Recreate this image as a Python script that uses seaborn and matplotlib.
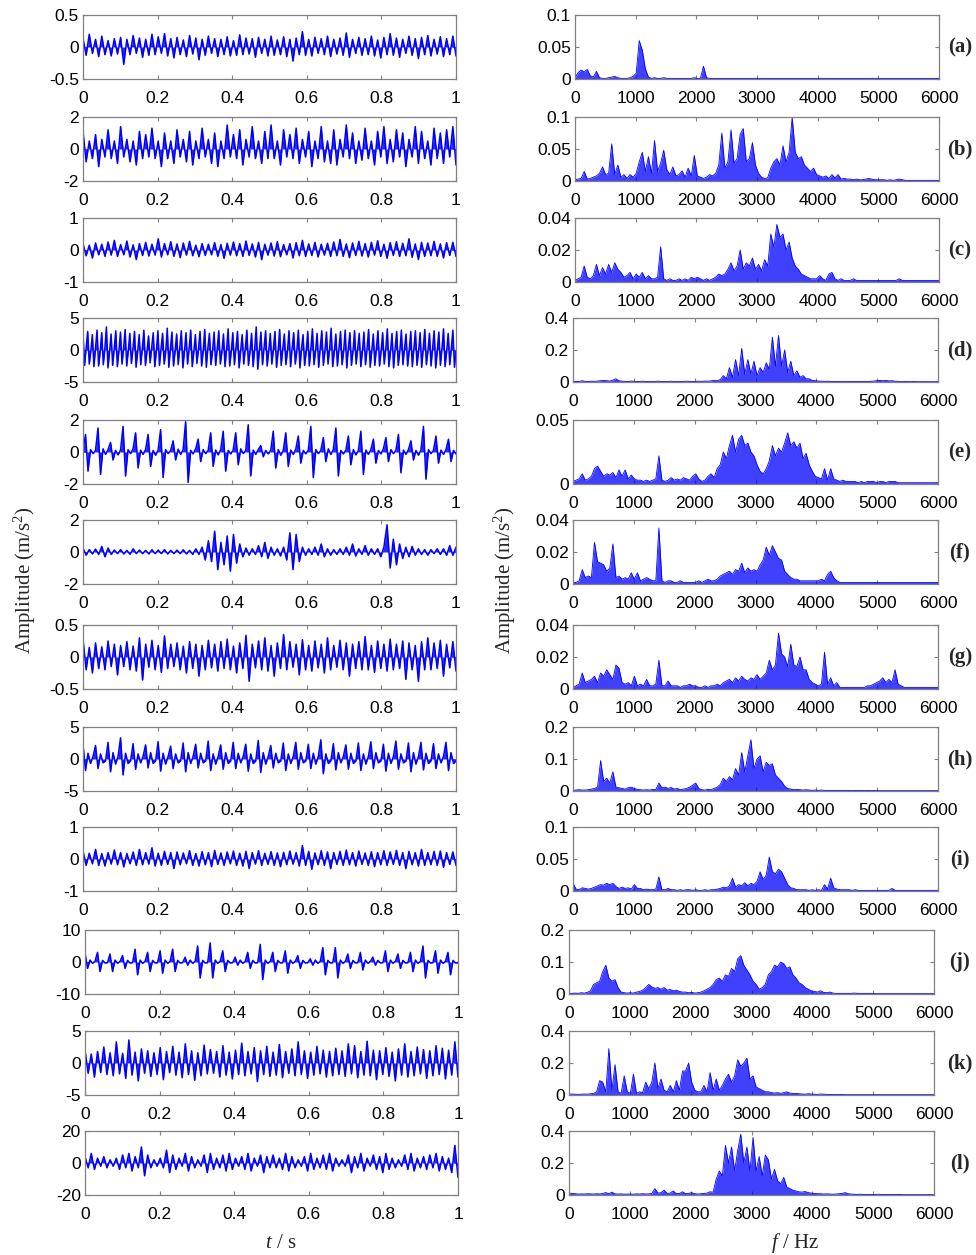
import numpy as np
import matplotlib
matplotlib.use("Agg")
import matplotlib.pyplot as plt
import seaborn as sns
from matplotlib.ticker import FuncFormatter

# ---------------- time-domain signals (m/s^2), sampled uniformly over 0..1 s ----------------
ta = [.14,-.13,.2,-.1,.12,-.15,.17,-.12,.1,-.14,
      .13,-.11,.15,-.27,.12,-.12,.18,-.1,.14,-.16,
      .12,-.13,.2,-.12,.16,-.1,.21,-.14,.13,-.17,
      .15,-.12,.11,-.15,.18,-.11,.14,-.2,.12,-.13,
      .17,-.1,.13,-.15,.12,-.12,.16,-.14,.1,-.13,
      .19,-.12,.14,-.11,.13,-.16,.15,-.1,.12,-.14,
      .17,-.13,.11,-.12,.16,-.15,.12,-.22,.14,-.12,
      .24,-.13,.12,-.14,.15,-.1,.13,-.12,.17,-.15,
      .12,-.11,.14,-.13,.22,-.16,.12,-.1,.15,-.13,
      .13,-.12,.17,-.14,.11,-.17,.15,-.12,.21,-.13,
      .14,-.16,.12,-.1,.17,-.13,.13,-.18,.15,-.12,
      .18,-.14,.12,-.11,.16,-.15,.13,-.12,.17,-.14]
tb = [1.1,-.8,.5,-.6,.9,-1.1,.6,-.5,1.2,-.6,
      .5,-.9,1.4,-.5,.6,-.8,.5,-1.0,1.1,-.6,
      .9,-.5,1.3,-.6,.5,-1.1,1.0,-.6,.5,-.9,
      1.2,-.5,.6,-.8,1.1,-1.0,.5,-.6,1.3,-.5,
      .6,-.9,1.0,-1.1,.5,-.6,1.5,-.5,.9,-.6,
      1.2,-1.0,.6,-.5,1.4,-.6,.5,-.9,1.1,-.6,
      1.5,-.6,.5,-1.0,1.2,-.5,.9,-.6,1.3,-.9,
      .6,-.5,1.1,-1.1,.5,-.6,1.4,-.8,.5,-.9,
      1.2,-1.0,.6,-.5,1.5,-.6,1.0,-.9,.5,-.7,
      1.3,-.6,.5,-1.0,1.1,-.5,1.4,-.9,.6,-.8,
      1.2,-.5,1.0,-1.1,.6,-.5,1.4,-.9,1.1,-.6,
      .5,-1.0,1.3,-.6,1.0,-.9,1.2,-.5,1.4,-1.0]
tc = [.2,-.18,.15,-.25,.22,-.15,.18,-.2,.25,-.16,
      .3,-.2,.17,-.15,.28,-.22,.16,-.3,.2,-.17,
      .24,-.19,.18,-.16,.35,-.22,.2,-.15,.26,-.2,
      .19,-.24,.22,-.16,.27,-.18,.15,-.21,.2,-.17,
      .18,-.15,.23,-.2,.17,-.26,.21,-.16,.25,-.18,
      .2,-.2,.28,-.17,.19,-.22,.24,-.3,.18,-.16,
      .22,-.19,.26,-.21,.17,-.15,.2,-.25,.23,-.18,
      .3,-.2,.19,-.17,.24,-.22,.18,-.16,.21,-.2,
      .25,-.18,.33,-.2,.19,-.24,.22,-.17,.27,-.19,
      .2,-.22,.24,-.16,.29,-.2,.18,-.26,.23,-.17,
      .26,-.2,.21,-.18,.35,-.23,.19,-.3,.24,-.2,
      .22,-.18,.27,-.2,.19,-.25,.23,-.17,.24,-.2]
td = [2.6,-2.4,.3,2.9,-2.2,-.2,2.4,-2.6,.3,3.1,-2.5,-.3,2.7,-2.3,.2,3.6,-2.8,-.3,2.5,-2.4,.2,3.0,-2.6,-.2,2.8,-2.2,.3,3.2,-2.5,-.2,
      2.6,-2.1,.2,2.9,-2.7,-.3,2.4,-2.3,.2,3.1,-2.4,-.2,2.2,-2.0,.3,2.7,-2.6,-.2,3.0,-2.4,.2,2.6,-2.2,-.3,3.4,-2.7,.2,2.8,-2.5,-.2,
      2.5,-2.3,.3,3.0,-2.8,-.2,2.7,-2.2,.2,3.1,-2.6,-.3,2.4,-2.1,.2,2.9,-2.5,-.2,3.2,-2.7,.3,2.6,-2.3,-.2,2.8,-2.4,.2,3.0,-2.2,-.3,
      2.5,-2.6,.2,3.3,-2.5,-.2,2.7,-2.3,.3,2.9,-2.8,-.2,2.4,-2.2,.2,3.1,-2.4,-.3,2.6,-2.6,.2,3.6,-3.0,-.2,2.8,-2.3,.3,3.0,-2.5,-.2,
      2.6,-2.2,.2,2.9,-2.7,-.3,3.2,-2.4,.2,2.5,-2.3,-.2,3.0,-2.6,.3,2.7,-2.2,-.2,3.1,-2.8,.2,2.4,-2.4,-.3,2.9,-2.5,.2,3.3,-2.3,-.2,
      2.6,-2.7,.3,3.0,-2.4,-.2,2.8,-2.2,.2,3.4,-2.6,-.3,2.5,-2.5,.2,2.9,-2.3,-.2,3.1,-2.8,.3,2.7,-2.4,-.2,3.0,-2.2,.2,2.6,-2.6,-.3,
      2.8,-2.3,.2,3.2,-2.7,-.2,2.5,-2.4,.3,3.0,-2.5,-.2,2.7,-2.2,.2,3.3,-2.6,-.3,2.6,-2.8,.2,2.9,-2.4,-.2,3.1,-2.3,.3,2.5,-2.5,-.2,
      2.9,-2.6,.2,3.0,-2.4,-.3,2.7,-2.7,.2,3.2,-2.3,-.2,2.6,-2.5,.3,3.0,-2.8,-.2,2.8,-2.4,.2,3.3,-2.6,-.3,2.6,-2.3,.2,3.1,-2.7,-.2]
te = [.12,1.1,-1.2,.15,-.1, .1,1.5,-1.4,.2,-.15, .15,.6,-.5,.1,-.18, .12,1.6,-1.5,.15,-.1, .2,1.2,-1.0,.12,-.15,
      .15,1.1,-.9,.1,-.2, .12,1.4,-1.6,.15,-.1, .1,.7,-.5,.18,-.15, .15,1.9,-1.9,.1,-.12, .2,.8,-.6,.15,-.1,
      .1,1.2,-.9,.12,-.18, .15,1.3,-1.2,.1,-.12, .12,1.2,-.8,.2,-.1, .1,1.7,-1.5,.12,-.15, .15,.4,-.3,.1,-.12,
      .12,1.3,-1.0,.15,-.2, .1,1.2,-.9,.12,-.15, .18,1.0,-.7,.1,-.12, .12,1.6,-1.6,.15,-.1, .1,.9,-.6,.2,-.15,
      .15,1.5,-1.5,.1,-.12, .12,1.0,-.8,.15,-.18, .1,1.3,-1.4,.12,-.15, .15,.8,-.7,.1,-.12, .2,.9,-.6,.15,-.1,
      .1,1.1,-1.3,.12,-.15, .15,.7,-.5,.1,-.2, .12,1.6,-1.7,.15,-.1, .1,1.0,-.7,.12,-.15, .15,.8,-.6,.1,-.12]
tf = [.25,-.2,.15,-.12,.18,-.15,.35,-.3,.25,-.15,
      .12,-.1,.15,-.12,.1,-.14,.2,-.1,.12,-.1,
      .1,-.12,.14,-.1,.12,-.1,.15,-.12,.1,-.1,
      .12,-.1,.14,-.12,.1,-.15,.2,-.15,.3,-.5,
      .7,-.6,1.3,-1.1,.6,-.8,1.0,-1.2,1.1,-.7,
      .5,-.3,.25,-.2,.2,-.15,.4,-.3,.6,-.4,
      .3,-.2,.2,-.25,.3,-.5,1.2,-1.1,1.1,-.6,
      .3,-.2,.2,-.15,.3,-.2,.5,-.3,.2,-.2,
      .15,-.15,.2,-.15,.3,-.2,.5,-.25,.2,-.15,
      .4,-.2,.2,-.15,.2,-.3,.3,1.7,-1.0,.8,
      -.8,.5,-.4,.3,-.3,.35,-.2,.2,-.15,.15,
      -.2,.15,-.1,.2,-.15,.2,-.2,.4,-.2,.3]
tg = [.28,-.2,.15,-.25,.22,-.18,.16,-.2,.25,-.15,
      .2,-.28,.18,-.15,.24,-.2,.17,-.22,.3,-.36,
      .2,-.16,.26,-.2,.18,-.24,.33,-.18,.2,-.15,
      .22,-.2,.17,-.25,.24,-.18,.2,-.3,.18,-.2,
      .26,-.17,.2,-.22,.24,-.18,.28,-.2,.17,-.25,
      .22,-.18,.34,-.38,.2,-.17,.25,-.2,.3,-.22,
      .18,-.3,.22,-.18,.35,-.2,.24,-.16,.2,-.28,
      .27,-.2,.18,-.22,.25,-.17,.2,-.25,.3,-.2,
      .18,-.16,.26,-.2,.22,-.3,.2,-.18,.24,-.2,
      .32,-.2,.18,-.24,.25,-.18,.2,-.22,.28,-.2,
      .2,-.18,.25,-.35,.22,-.2,.18,-.38,.24,-.2,
      .3,-.2,.22,-.18,.26,-.3,.2,-.17,.24,-.22]
th = [2.3,-1.8,.9,-.7,.4, 2.1,-1.5,.8,-.6,-.3, 2.6,-2.0,1.0,-.8,.4, 3.3,-2.5,.9,-.7,-.3, 2.4,-1.6,.8,-.6,.4,
      2.2,-1.4,1.0,-.7,-.3, 2.7,-1.9,.9,-.8,.4, 2.0,-1.5,.8,-.6,-.3, 2.5,-2.0,1.0,-.7,.4, 2.3,-1.4,.9,-.6,-.3,
      2.8,-1.8,.8,-.8,.4, 2.2,-1.6,1.0,-.7,-.3, 2.6,-1.5,.9,-.6,.4, 2.3,-1.9,.8,-.7,-.3, 2.9,-2.1,1.0,-.8,.4,
      2.1,-1.4,.9,-.6,-.3, 2.5,-1.8,.8,-.7,.4, 2.6,-1.6,1.0,-.6,-.3, 2.3,-1.5,.9,-.8,.4, 3.0,-2.3,.8,-.7,-.3,
      2.4,-1.7,1.0,-.6,.4, 2.2,-1.6,.9,-.7,-.3, 2.5,-1.8,.8,-.8,.4, 2.7,-1.5,1.0,-.6,-.3, 2.3,-1.9,.9,-.7,.4,
      2.8,-1.6,.8,-.6,-.3, 2.5,-2.0,1.0,-.8,.4, 2.6,-1.7,.9,-.7,-.3, 2.4,-1.5,.8,-.6,.4, 2.6,-1.8,1.0,-.7,-.3]
ti = [.25,-.2,.18,-.15,.3,-.2,.17,-.22,.2,-.16,
      .28,-.18,.2,-.25,.17,-.15,.22,-.2,.3,-.18,
      .2,-.16,.35,-.22,.18,-.2,.24,-.17,.2,-.3,
      .22,-.18,.19,-.15,.26,-.2,.17,-.22,.23,-.18,
      .2,-.24,.27,-.17,.19,-.2,.22,-.15,.25,-.2,
      .18,-.22,.24,-.3,.2,-.16,.26,-.2,.18,-.17,
      .23,-.2,.19,-.24,.21,-.18,.25,-.16,.2,-.22,
      .42,-.2,.24,-.32,.19,-.18,.26,-.2,.22,-.3,
      .2,-.17,.24,-.2,.28,-.18,.2,-.22,.25,-.17,
      .19,-.2,.23,-.24,.2,-.18,.26,-.2,.22,-.17,
      .27,-.2,.2,-.3,.24,-.18,.2,-.22,.3,-.2,
      .2,-.18,.24,-.2,.25,-.26,.2,-.17,.22,-.2]
tj = [3,-2,.6,-.4,.2, 3,-3,.5,-.3,-.2, 2.5,-3,.6,-.4,.2, 2,-2,.5,-.3,-.2, 4,-4,.6,-.4,.2,
      3,-3,.5,-.3,-.2, 3.5,-3.5,.6,-.4,.2, 4,-3,.5,-.3,-.2, 1.5,-1,.6,-.4,.2, 5,-5,.5,-.3,-.2,
      6,-5,.6,-.4,.2, 3.5,-3,.5,-.3,-.2, 1.5,-1,.6,-.4,.2, 3,-2,.5,-.3,-.2, 5.5,-5.5,.6,-.4,.2,
      3,-3,.5,-.3,-.2, 3.5,-3.5,.6,-.4,.2, 2,-2,.5,-.3,-.2, 1,-1,.6,-.4,.2, 4.5,-4,.5,-.3,-.2,
      4.5,-5,.6,-.4,.2, 2.5,-2,.5,-.3,-.2, 3,-2.5,.6,-.4,.2, 1.5,-1,.5,-.3,-.2, 3.5,-3,.6,-.4,.2,
      2.5,-2,.5,-.3,-.2, 3,-3,.6,-.4,.2, 5,-5,.5,-.3,-.2, 3.5,-3.5,.6,-.4,.2, 3,-4,.5,-.3,-.2]
tk = [2.0,-1.6,1.4,-2.2,1.8,-1.5,2.5,-1.8,1.6,-2.0,
      3.3,-1.7,1.5,-2.4,3.6,-1.9,1.7,-2.8,2.2,-1.6,
      1.9,-2.1,1.6,-1.8,2.4,-2.6,1.8,-1.5,2.6,-1.9,
      1.7,-2.3,3.0,-1.8,1.9,-2.7,1.6,-2.0,2.8,-1.7,
      2.1,-1.6,1.8,-2.2,2.7,-1.9,1.7,-2.5,2.0,-1.8,
      3.1,-2.0,1.8,-1.7,2.4,-2.9,1.9,-1.8,2.6,-2.1,
      1.7,-1.9,2.9,-2.3,1.8,-1.6,2.2,-2.0,3.3,-1.8,
      1.9,-2.4,1.7,-1.9,2.6,-1.7,2.0,-2.2,1.8,-2.0,
      2.3,-1.8,1.9,-2.1,3.0,-1.7,2.7,-2.3,1.8,-1.9,
      3.4,-2.0,2.0,-2.6,1.9,-1.8,2.4,-2.1,1.7,-2.8,
      2.2,-1.9,3.0,-2.2,1.8,-2.0,2.5,-1.7,2.1,-2.4,
      1.9,-2.0,2.7,-1.8,2.3,-2.5,2.0,-1.9,3.3,-2.2]
tl = [4,-3,6,-4,3,-2,4,-3,2,-2,
      3,-4,5,-3,6,-5,4,-3,10,-8,
      5,-3,2,-2,3,-3,8,-6,5,-4,
      3,-2,6,-5,4,-3,2,-2,5,-6,
      6,-4,3,-3,5,-5,6,-4,3,-2,
      4,-4,6,-5,3,-2,5,-6,4,-3,
      5,-3,3,-4,6,-5,4,-3,2,-2,
      4,-5,6,-4,3,-3,5,-4,6,-5,
      3,-2,2,-2,5,-6,4,-3,6,-5,
      3,-2,5,-4,4,-6,6,-4,3,-3,
      2,-2,5,-4,6,-5,3,-3,4,-4,
      5,-3,6,-5,4,-4,3,-6,11,-9]

# ---------------- amplitude spectra (m/s^2), sampled uniformly over 0..6000 Hz ----------------
fa = [.002,.01,.014,.011,.015,.005,.003,.012,.002,.001,
      .001,.002,.003,.004,.002,.001,.001,.001,.002,.004,
      .009,.06,.045,.016,.003,.001,.002,.001,.001,.002,
      .001,.001,.001,.001,.001,.001,.001,.001,.001,.002,
      .001,.001,.02,.002,.001,.001,.001,.001,.001,.001,
      .001,.001,.001,.001,.001,.001,.001,.001,.001,.001,
      .001,.001,.001,.001,.001,.001,.001,.001,.001,.001,
      .001,.001,.001,.001,.001,.001,.001,.001,.001,.001,
      .001,.001,.001,.001,.001,.001,.001,.001,.001,.001,
      .001,.001,.001,.001,.001,.001,.001,.001,.001,.001,
      .001,.001,.001,.001,.001,.001,.001,.001,.001,.001,
      .001,.001,.001,.001,.001,.001,.001,.001,.001,.001]
fb = [.002,.003,.004,.015,.003,.004,.006,.008,.012,.022,
      .01,.012,.058,.01,.025,.006,.01,.004,.01,.006,
      .012,.03,.045,.015,.038,.012,.063,.015,.028,.048,
      .018,.01,.022,.008,.01,.016,.006,.02,.008,.04,
      .008,.006,.004,.006,.01,.008,.012,.025,.075,.02,
      .03,.08,.028,.035,.073,.082,.03,.035,.06,.025,
      .012,.006,.004,.005,.02,.03,.035,.025,.055,.03,
      .045,.1,.045,.035,.038,.025,.02,.015,.02,.01,
      .008,.006,.008,.004,.01,.005,.01,.003,.004,.003,
      .003,.002,.003,.002,.002,.003,.004,.003,.002,.002,
      .002,.002,.001,.002,.001,.002,.003,.002,.001,.001,
      .001,.001,.001,.001,.001,.001,.001,.001,.001,.001]
fc = [.001,.002,.003,.01,.003,.002,.004,.011,.004,.009,
      .005,.011,.006,.012,.008,.006,.003,.004,.006,.002,
      .005,.003,.006,.002,.004,.002,.002,.003,.022,.002,
      .001,.002,.001,.001,.002,.001,.002,.001,.003,.002,
      .003,.002,.001,.002,.001,.002,.003,.005,.004,.005,
      .008,.012,.007,.01,.02,.008,.012,.01,.015,.008,
      .011,.007,.014,.01,.03,.022,.036,.028,.03,.02,
      .025,.015,.01,.008,.005,.004,.003,.002,.002,.002,
      .004,.002,.001,.005,.006,.002,.001,.002,.001,.001,
      .001,.002,.001,.001,.001,.001,.001,.001,.001,.001,
      .001,.001,.001,.001,.001,.001,.002,.001,.001,.001,
      .001,.001,.001,.001,.001,.001,.001,.001,.001,.001]
fd = [.003,.004,.003,.008,.004,.003,.005,.004,.006,.008,
      .01,.008,.006,.012,.02,.008,.005,.004,.003,.006,
      .004,.003,.004,.005,.003,.004,.003,.004,.005,.003,
      .004,.003,.005,.003,.004,.003,.004,.005,.004,.003,
      .004,.005,.004,.006,.005,.007,.01,.008,.015,.04,
      .02,.09,.03,.14,.04,.21,.05,.14,.05,.13,
      .04,.09,.06,.12,.08,.28,.1,.29,.1,.2,
      .06,.13,.04,.07,.03,.04,.02,.02,.01,.008,
      .006,.005,.004,.005,.004,.003,.004,.003,.004,.003,
      .003,.004,.003,.003,.004,.003,.003,.004,.006,.008,
      .01,.008,.01,.007,.008,.005,.004,.003,.003,.003,
      .002,.003,.002,.002,.002,.002,.002,.002,.002,.002]
fe = [.002,.003,.004,.008,.003,.004,.006,.012,.014,.01,
      .006,.008,.007,.009,.005,.011,.006,.011,.004,.007,
      .004,.003,.003,.002,.003,.002,.003,.004,.022,.003,
      .002,.003,.005,.003,.004,.003,.005,.004,.003,.006,
      .008,.004,.002,.003,.006,.008,.005,.012,.015,.025,
      .02,.03,.038,.025,.035,.038,.03,.032,.025,.022,
      .015,.01,.008,.012,.018,.03,.022,.028,.025,.032,
      .04,.03,.033,.028,.032,.02,.024,.015,.01,.006,
      .005,.004,.012,.003,.012,.004,.003,.002,.003,.002,
      .002,.002,.002,.001,.002,.001,.002,.002,.002,.001,
      .002,.002,.001,.002,.002,.002,.001,.001,.001,.001,
      .001,.001,.001,.001,.001,.001,.001,.001,.001,.001]
ff = [.001,.001,.002,.009,.004,.005,.004,.026,.014,.013,
      .012,.008,.01,.025,.004,.005,.003,.004,.003,.007,
      .003,.007,.002,.003,.004,.003,.002,.002,.035,.002,
      .001,.002,.002,.001,.001,.002,.001,.001,.001,.001,
      .001,.002,.001,.002,.003,.002,.002,.003,.005,.006,
      .007,.008,.006,.009,.008,.013,.007,.01,.008,.009,
      .008,.012,.015,.023,.018,.024,.02,.016,.015,.008,
      .006,.004,.003,.003,.002,.002,.002,.002,.002,.002,
      .002,.003,.002,.006,.008,.004,.002,.001,.001,.001,
      .001,.001,.001,.001,.001,.001,.001,.001,.001,.001,
      .001,.001,.001,.001,.001,.001,.001,.001,.001,.001,
      .001,.001,.001,.001,.001,.001,.001,.001,.001,.001]
fg = [.001,.002,.003,.01,.004,.005,.006,.008,.004,.01,
      .008,.012,.009,.006,.015,.013,.004,.003,.004,.002,
      .008,.002,.003,.002,.006,.002,.002,.003,.018,.002,
      .002,.005,.002,.002,.002,.001,.002,.002,.003,.002,
      .002,.001,.001,.002,.001,.002,.002,.003,.002,.004,
      .005,.006,.004,.007,.005,.008,.006,.005,.007,.006,
      .009,.006,.008,.01,.018,.012,.015,.035,.022,.02,
      .014,.028,.015,.014,.02,.012,.012,.006,.004,.003,
      .002,.003,.023,.003,.007,.002,.004,.001,.001,.001,
      .001,.001,.001,.001,.001,.001,.002,.002,.003,.004,
      .005,.007,.004,.006,.004,.012,.003,.002,.001,.001,
      .001,.001,.001,.001,.001,.001,.001,.001,.001,.001]
fh = [.002,.003,.004,.003,.003,.004,.006,.008,.012,.095,
      .03,.04,.025,.06,.012,.01,.008,.006,.01,.012,
      .008,.005,.004,.003,.004,.003,.005,.004,.025,.01,
      .012,.008,.011,.006,.008,.004,.006,.008,.012,.018,
      .025,.008,.004,.003,.005,.004,.008,.012,.02,.04,
      .03,.045,.035,.07,.05,.12,.06,.11,.16,.07,
      .1,.11,.06,.09,.08,.085,.05,.04,.03,.015,
      .008,.006,.004,.005,.004,.003,.004,.003,.002,.003,
      .002,.003,.002,.002,.002,.002,.002,.002,.002,.002,
      .002,.001,.002,.001,.002,.001,.002,.001,.002,.001,
      .001,.001,.001,.001,.001,.001,.001,.001,.001,.001,
      .001,.001,.001,.001,.001,.001,.001,.001,.001,.001]
fi = [.012,.003,.002,.005,.004,.003,.004,.006,.008,.01,
      .009,.012,.01,.012,.007,.004,.006,.004,.005,.003,
      .01,.004,.004,.002,.003,.002,.002,.003,.022,.002,
      .002,.004,.002,.002,.001,.002,.001,.002,.002,.001,
      .002,.001,.001,.002,.001,.002,.002,.003,.004,.006,
      .005,.008,.02,.006,.01,.008,.013,.008,.012,.01,
      .015,.03,.018,.025,.053,.03,.027,.034,.03,.02,
      .01,.005,.004,.002,.002,.002,.002,.001,.002,.001,
      .002,.001,.01,.003,.02,.005,.003,.002,.002,.002,
      .002,.001,.002,.001,.001,.001,.001,.001,.001,.001,
      .001,.001,.001,.001,.004,.001,.001,.001,.001,.001,
      .001,.001,.001,.001,.001,.001,.001,.001,.001,.001]
fj = [.002,.002,.003,.002,.004,.003,.005,.01,.03,.035,
      .04,.07,.09,.05,.04,.045,.02,.006,.004,.003,
      .004,.003,.006,.008,.012,.02,.03,.022,.018,.02,
      .015,.02,.012,.014,.01,.012,.008,.006,.006,.004,
      .005,.003,.004,.006,.01,.015,.02,.03,.045,.05,
      .04,.06,.055,.08,.07,.11,.12,.09,.075,.06,
      .04,.03,.015,.02,.03,.06,.07,.09,.085,.1,
      .095,.08,.085,.06,.05,.035,.03,.02,.015,.01,
      .008,.006,.01,.005,.004,.006,.003,.002,.002,.002,
      .002,.002,.002,.003,.002,.002,.002,.002,.002,.002,
      .001,.001,.001,.001,.001,.001,.001,.001,.001,.001,
      .001,.001,.001,.001,.001,.001,.001,.001,.001,.001]
fk = [.005,.006,.005,.004,.005,.006,.005,.008,.01,.02,
      .09,.08,.02,.29,.03,.19,.02,.01,.12,.02,
      .01,.13,.01,.02,.015,.08,.04,.08,.2,.04,
      .1,.03,.02,.06,.02,.09,.03,.15,.15,.2,
      .08,.03,.02,.02,.06,.02,.14,.03,.1,.03,
      .06,.1,.13,.08,.12,.22,.18,.2,.23,.1,
      .12,.05,.04,.03,.02,.02,.015,.012,.015,.01,
      .015,.02,.012,.01,.01,.008,.006,.005,.008,.006,
      .005,.004,.006,.005,.004,.003,.003,.003,.003,.003,
      .002,.002,.002,.002,.002,.002,.002,.002,.002,.002,
      .002,.002,.002,.002,.002,.002,.002,.002,.002,.002,
      .002,.002,.002,.002,.002,.002,.002,.002,.002,.002]
fl = [.012,.01,.008,.006,.007,.006,.008,.007,.006,.008,
      .006,.01,.015,.008,.018,.007,.006,.007,.005,.006,
      .006,.005,.007,.006,.008,.006,.007,.01,.04,.012,
      .015,.03,.01,.012,.025,.008,.01,.02,.008,.01,
      .015,.008,.006,.008,.01,.012,.02,.018,.1,.15,
      .12,.31,.2,.3,.15,.28,.38,.2,.3,.15,
      .36,.15,.24,.12,.25,.22,.1,.16,.09,.07,
      .11,.05,.04,.03,.025,.02,.018,.022,.015,.012,
      .01,.008,.008,.006,.007,.006,.005,.006,.008,.01,
      .015,.008,.006,.005,.004,.005,.004,.003,.004,.003,
      .004,.005,.003,.003,.003,.003,.004,.003,.003,.002,
      .002,.002,.002,.002,.002,.002,.002,.002,.002,.002]

time_signals = [ta, tb, tc, td, te, tf, tg, th, ti, tj, tk, tl]
spectra = [fa, fb, fc, fd, fe, ff, fg, fh, fi, fj, fk, fl]
time_ylim = [0.5, 2, 1, 5, 2, 2, 0.5, 5, 1, 10, 5, 20]
spec_ylim = [0.1, 0.1, 0.04, 0.4, 0.05, 0.04, 0.04, 0.2, 0.1, 0.2, 0.4, 0.4]
spec_yticks = [[0, .05, .1], [0, .05, .1], [0, .02, .04], [0, .2, .4], [0, .05],
               [0, .02, .04], [0, .02, .04], [0, .1, .2], [0, .05, .1], [0, .1, .2],
               [0, .2, .4], [0, .2, .4]]
time_xticks = [0, 0.2, 0.4, 0.6, 0.8, 1]
freq_xticks = [0, 1000, 2000, 3000, 4000, 5000, 6000]
panel_labels = ['(a)', '(b)', '(c)', '(d)', '(e)', '(f)', '(g)', '(h)', '(i)', '(j)', '(k)', '(l)']

# ---------------- styling / layout ----------------
sns.set_theme(style="white")
plt.rcParams['font.family'] = ['Liberation Sans', 'DejaVu Sans']
plt.rcParams['axes.unicode_minus'] = False
plt.rcParams['mathtext.fontset'] = 'custom'
plt.rcParams['mathtext.rm'] = 'Liberation Serif'
plt.rcParams['mathtext.it'] = 'Liberation Serif:italic'

W, H = 976, 1255
fig = plt.figure(figsize=(W / 100, H / 100), dpi=100)
fig.patch.set_facecolor('white')

tops = [15, 117, 218, 318, 420, 520, 625, 727, 827, 930, 1031, 1131]
PH = 64
left_x = [(83, 456)] * 9 + [(85, 458)] * 3
right_x = [(575, 939)] * 3 + [(573, 938)] * 6 + [(569, 934)] * 3
BLUE = '#0000ff'
GREY = '#808080'
fmt = FuncFormatter(lambda v, p: f'{v:g}')


def rect(x0, x1, top):
    return [x0 / W, 1 - (top + PH) / H, (x1 - x0) / W, PH / H]


def style(ax, xlim, xticks, ylim, yticks):
    ax.set_xlim(*xlim)
    ax.set_ylim(*ylim)
    ax.set_xticks(xticks)
    ax.set_yticks(yticks)
    ax.xaxis.set_major_formatter(fmt)
    ax.yaxis.set_major_formatter(fmt)
    ax.tick_params(direction='in', length=3, width=0.8, color=GREY, top=True, right=True,
                   bottom=True, left=True, labelsize=12.5, labelcolor='black')
    ax.tick_params(axis='x', pad=8.5)
    ax.tick_params(axis='y', pad=3)
    for s in ax.spines.values():
        s.set_color(GREY)
        s.set_linewidth(0.9)
    ax.set_xlabel('')
    ax.set_ylabel('')
    ax.set_facecolor('white')


for k in range(12):
    axL = fig.add_axes(rect(*left_x[k], tops[k]))
    sig = np.array(time_signals[k], dtype=float)
    t = np.linspace(0, 1, len(sig))
    axL.fill_between(t, 0, sig, color=BLUE, alpha=0.85, linewidth=0)
    sns.lineplot(x=t, y=sig, ax=axL, color=BLUE, linewidth=1.1, estimator=None)
    yl = time_ylim[k]
    style(axL, (0, 1), time_xticks, (-yl, yl), [-yl, 0, yl])

    axR = fig.add_axes(rect(*right_x[k], tops[k]))
    spec = np.array(spectra[k], dtype=float)
    f = np.linspace(0, 6000, len(spec))
    axR.fill_between(f, 0, spec, color=BLUE, alpha=0.75, linewidth=0)
    sns.lineplot(x=f, y=spec, ax=axR, color=BLUE, linewidth=0.6, estimator=None)
    style(axR, (0, 6000), freq_xticks, (0, spec_ylim[k]), spec_yticks[k])

    fig.text(960 / W, 1 - (tops[k] + PH / 2) / H, panel_labels[k], ha='center', va='center',
             fontsize=15, fontweight='bold', family='Liberation Serif')

fig.text(25 / W, 1 - 580 / H, 'Amplitude (m/s$^2$)', rotation=90, ha='center', va='center',
         fontsize=15, family='Liberation Serif')
fig.text(505 / W, 1 - 580 / H, 'Amplitude (m/s$^2$)', rotation=90, ha='center', va='center',
         fontsize=15, family='Liberation Serif')
fig.text(281 / W, 1 - 1243 / H, '$t$ / s', ha='center', va='center', fontsize=15,
         family='Liberation Serif')
fig.text(795 / W, 1 - 1243 / H, '$f$ / Hz', ha='center', va='center', fontsize=15,
         family='Liberation Serif')

fig.savefig('out.png', dpi=100, facecolor='white')
